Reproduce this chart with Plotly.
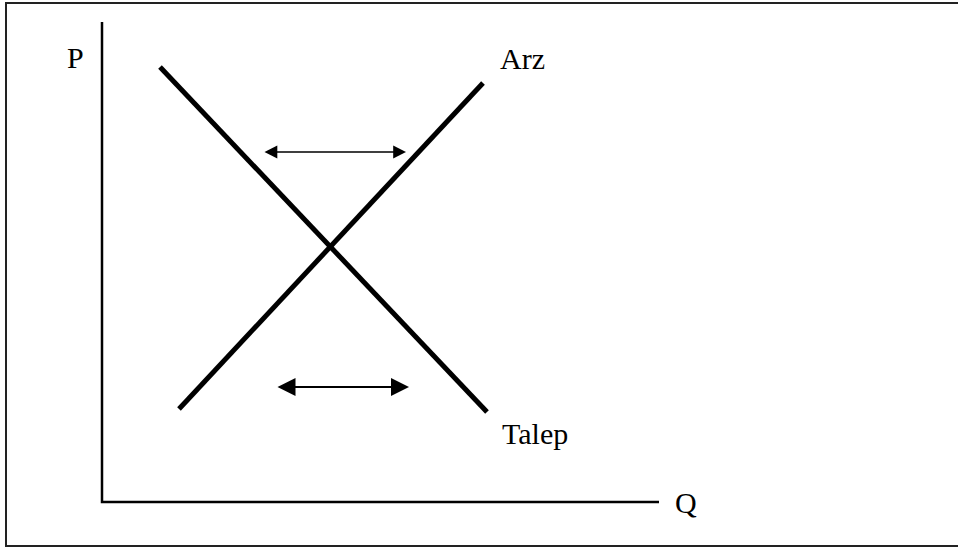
import plotly.graph_objects as go

# Supply / demand diagram, coordinates in picture pixels (y grows downward)
demand_x = [160, 487]
demand_y = [67, 412]
supply_x = [179, 483]
supply_y = [409, 83]

axis_x = [102, 102, 659]
axis_y = [22, 502, 502]

curve_labels = ["Arz", "Talep", "P", "Q"]
label_x = [498, 500, 65, 673]
label_y = [58, 433, 57, 502]

# shifts: [x_start, x_end, y]
shift_upper = [263, 406, 152]
shift_lower = [276, 409, 387]

fig = go.Figure()

fig.add_trace(go.Scatter(
    x=axis_x, y=axis_y, mode="lines",
    line=dict(color="black", width=2.5),
    hoverinfo="skip",
))

fig.add_trace(go.Scatter(
    x=demand_x, y=demand_y, mode="lines",
    line=dict(color="black", width=5),
    hoverinfo="skip",
))

fig.add_trace(go.Scatter(
    x=supply_x, y=supply_y, mode="lines",
    line=dict(color="black", width=5),
    hoverinfo="skip",
))

for label, lx, ly in zip(curve_labels, label_x, label_y):
    fig.add_annotation(
        x=lx, y=ly, text=label, showarrow=False,
        xanchor="left", yanchor="middle",
        font=dict(family="Liberation Serif", size=30, color="black"),
    )

fig.add_annotation(
    x=shift_upper[1], y=shift_upper[2],
    ax=shift_upper[0], ay=shift_upper[2],
    xref="x", yref="y", axref="x", ayref="y",
    text="", showarrow=True,
    arrowside="end+start", arrowhead=2,
    arrowwidth=1.6, arrowsize=1.6, arrowcolor="black",
    standoff=0, startstandoff=0,
)

fig.add_annotation(
    x=shift_lower[1], y=shift_lower[2],
    ax=shift_lower[0], ay=shift_lower[2],
    xref="x", yref="y", axref="x", ayref="y",
    text="", showarrow=True,
    arrowside="end+start", arrowhead=2,
    arrowwidth=1.8, arrowsize=2.0, arrowcolor="black",
    standoff=0, startstandoff=0,
)

# outer frame, right edge runs off the picture
fig.add_shape(
    type="rect", xref="x", yref="y",
    x0=6, y0=3, x1=970, y1=546,
    line=dict(color="#222222", width=2),
)

fig.update_xaxes(range=[0, 958], visible=False, fixedrange=True)
fig.update_yaxes(range=[548, 0], visible=False, fixedrange=True)

fig.update_layout(
    width=958,
    height=548,
    showlegend=False,
    plot_bgcolor="white",
    paper_bgcolor="white",
    margin=dict(l=0, r=0, t=0, b=0),
)

fig.write_html(
    "out.html",
    config={"displayModeBar": False},
    post_script="document.body.style.margin='0';document.body.style.overflow='hidden';",
)
